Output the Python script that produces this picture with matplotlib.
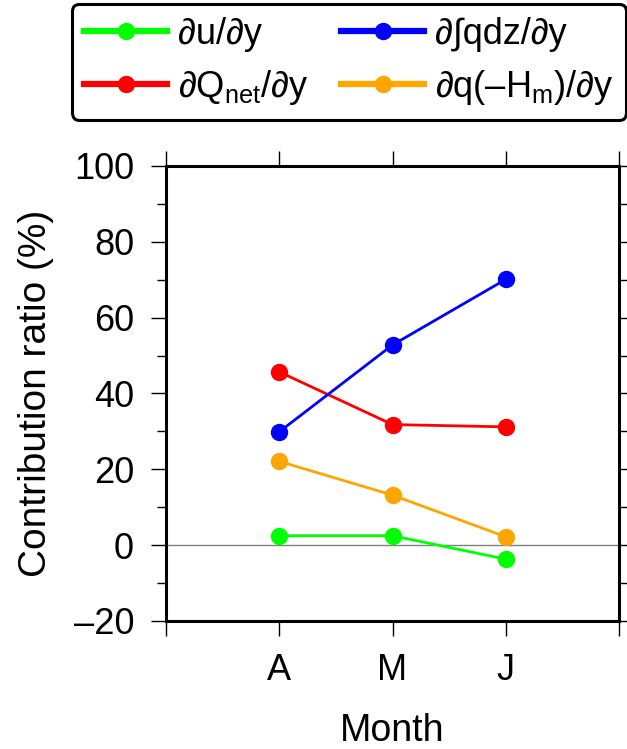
import matplotlib.pyplot as plt
from matplotlib.ticker import MultipleLocator

plt.rcParams['font.family'] = ['Liberation Sans', 'DejaVu Sans']
plt.rcParams['mathtext.fontset'] = 'custom'
plt.rcParams['mathtext.rm'] = 'Liberation Sans'
plt.rcParams['mathtext.it'] = 'Liberation Sans'

# data
months = ['A', 'M', 'J']
du_dy = [2.5, 2.5, -3.7]
dqnet_dy = [45.7, 31.8, 31.2]
dqdz_dy = [29.9, 52.8, 70.1]
dqhm_dy = [22.1, 13.2, 2.2]

labels = [r'∂u/∂y', r'∂Q$_\mathrm{net}$/∂y', r'∂∫qdz/∂y', r'∂q(–H$_\mathrm{m}$)/∂y']
colors = ['#00ff00', '#ff0000', '#0000ff', '#ffa500']

fig = plt.figure(figsize=(6.27, 7.49), dpi=100)
ax = fig.add_axes([0.2648, 0.1709, 0.7225, 0.6075])

xpos = [1, 2, 3]
for vals, lab, c in zip([du_dy, dqnet_dy, dqdz_dy, dqhm_dy], labels, colors):
    ax.plot(xpos, vals, color=c, lw=2.0, marker='o', ms=11.5, label=lab, zorder=3)

ax.axhline(0, color='gray', lw=1.0, zorder=1)

ax.set_xlim(0, 4)
ax.set_ylim(-20, 100)
ax.set_xticks([0, 1, 2, 3, 4])
ax.set_xticklabels([''] + months + [''])
ax.yaxis.set_major_locator(MultipleLocator(20))
ax.yaxis.set_minor_locator(MultipleLocator(10))
ax.set_yticklabels(['–20' if t < 0 else f'{int(t)}' for t in ax.get_yticks()])

ax.tick_params(which='both', direction='out', top=True, right=True, labelsize=26, width=1.0)
ax.tick_params(which='major', length=11, pad=12)
ax.tick_params(which='minor', length=6.5)
for sp in ax.spines.values():
    sp.set_linewidth(2.2)

ax.set_xlabel('Month', fontsize=27, labelpad=18)
ax.set_ylabel('Contribution ratio (%)', fontsize=28, labelpad=14)

# legend handles with thicker lines
leg_handles = [plt.Line2D([], [], color=c, lw=4.5, marker='o', ms=11.5) for c in colors]
leg = fig.legend(leg_handles, labels, ncol=2, loc='upper right',
                 bbox_to_anchor=(626 / 627, 1 - 4 / 749), bbox_transform=fig.transFigure,
                 fontsize=26, handlelength=2.3, handletextpad=0.3, columnspacing=0.9,
                 labelspacing=0.45, borderpad=0.35, borderaxespad=0, framealpha=1)
leg.get_frame().set_edgecolor('black')
leg.get_frame().set_linewidth(2.2)

fig.savefig('out.png', dpi=100)
